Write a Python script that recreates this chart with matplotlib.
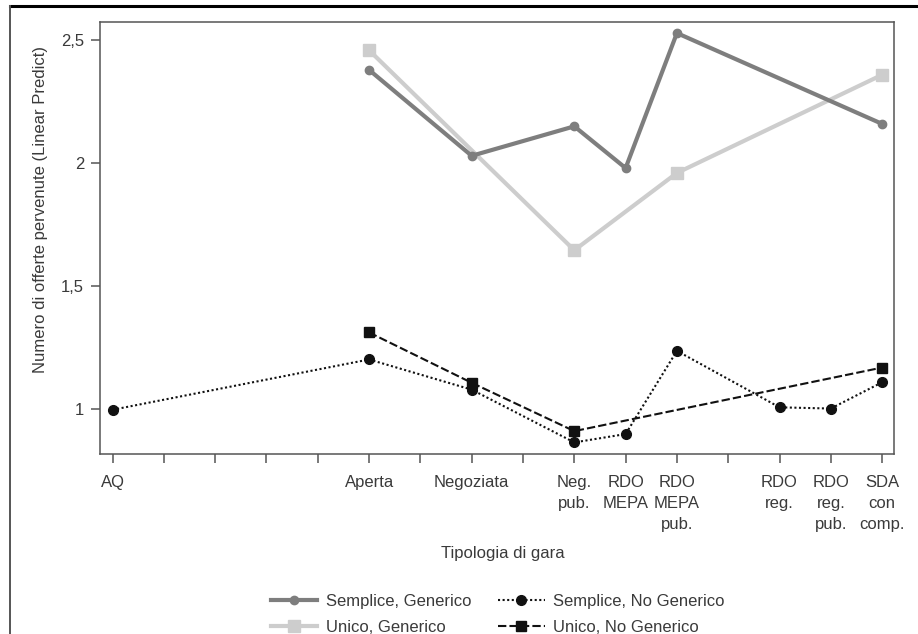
import matplotlib
matplotlib.use("Agg")
import matplotlib.pyplot as plt
from matplotlib.lines import Line2D

# x categories (16 slots on the axis, only some of them are named)
tick_labels = ['AQ', '', '', '', '', 'Aperta', '', 'Negoziata', '',
               'Neg.\npub.', 'RDO\nMEPA', 'RDO\nMEPA\npub.', '',
               'RDO\nreg.', 'RDO\nreg.\npub.', 'SDA\ncon\ncomp.']

# Semplice, Generico
sg_cat = ['Aperta', 'Negoziata', 'Neg.\npub.', 'RDO\nMEPA', 'RDO\nMEPA\npub.', 'SDA\ncon\ncomp.']
sg_val = [2.38, 2.03, 2.15, 1.98, 2.53, 2.16]

# Unico, Generico
ug_cat = ['Aperta', 'Neg.\npub.', 'RDO\nMEPA\npub.', 'SDA\ncon\ncomp.']
ug_val = [2.46, 1.645, 1.96, 2.36]

# Semplice, No Generico
sng_cat = ['AQ', 'Aperta', 'Negoziata', 'Neg.\npub.', 'RDO\nMEPA', 'RDO\nMEPA\npub.',
           'RDO\nreg.', 'RDO\nreg.\npub.', 'SDA\ncon\ncomp.']
sng_val = [0.995, 1.20, 1.077, 0.862, 0.896, 1.235, 1.005, 1.0, 1.107]

# Unico, No Generico
ung_cat = ['Aperta', 'Negoziata', 'Neg.\npub.', 'SDA\ncon\ncomp.']
ung_val = [1.31, 1.105, 0.908, 1.167]

y_ticks = [1, 1.5, 2, 2.5]
y_tick_labels = ['1', '1,5', '2', '2,5']

plt.rcParams['font.family'] = ['Liberation Sans', 'DejaVu Sans']
plt.rcParams['font.size'] = 12


def pos(cats):
    return [tick_labels.index(c) for c in cats]


fig = plt.figure(figsize=(9.18, 6.34), dpi=100)
ax = fig.add_axes([0.109, 0.284, 0.865, 0.682])

ax.plot(pos(ug_cat), ug_val, color='#cdcdcd', lw=3.0, marker='s', ms=8,
        label='Unico, Generico', zorder=2)
ax.plot(pos(sg_cat), sg_val, color='#7e7e7e', lw=3.0, marker='o', ms=6,
        label='Semplice, Generico', zorder=3)
ax.plot(pos(sng_cat), sng_val, color='#111111', lw=1.5, ls=(0, (1, 1.2)),
        marker='o', ms=7, label='Semplice, No Generico', zorder=4)
ax.plot(pos(ung_cat), ung_val, color='#111111', lw=1.5, ls=(0, (4, 1.5)),
        marker='s', ms=7.5, label='Unico, No Generico', zorder=4)

ax.set_xlim(-0.244, 15.234)
ax.set_ylim(0.815, 2.577)
ax.set_xticks(range(len(tick_labels)))
ax.set_xticklabels(tick_labels, linespacing=1.5)
ax.set_yticks(y_ticks)
ax.set_yticklabels(y_tick_labels)

for s in ax.spines.values():
    s.set_color('#555555')
    s.set_linewidth(1.1)
ax.tick_params(colors='#555555', labelcolor='#3a3a3a', length=6.5, width=1.1,
               labelsize=12)
ax.tick_params(axis='x', pad=9)
ax.tick_params(axis='y', pad=5)

ax.set_xlabel('Tipologia di gara', color='#3a3a3a', fontsize=12)
ax.xaxis.set_label_coords(0.507, -0.213)
ax.set_ylabel('Numero di offerte pervenute (Linear Predict)', color='#3a3a3a',
              fontsize=12)
ax.yaxis.set_label_coords(-0.066, 0.565)

h, l = ax.get_legend_handles_labels()
order = [1, 0, 2, 3]
fig.legend([h[i] for i in order], [l[i] for i in order], ncol=2,
           loc='center', bbox_to_anchor=(0.542, 0.031), frameon=False,
           fontsize=12, handlelength=2.8, handletextpad=0.5,
           columnspacing=1.6, labelspacing=0.7, labelcolor='#3a3a3a')

# outer frame of the page figure
fig.add_artist(Line2D([10 / 918, 1.0], [1 - 5.7 / 634, 1 - 5.7 / 634],
                      transform=fig.transFigure, color='black', lw=2.2))
fig.add_artist(Line2D([10 / 918, 10 / 918], [0, 1 - 5.7 / 634],
                      transform=fig.transFigure, color='#555555', lw=1.4))

fig.savefig('out.png', dpi=100)
